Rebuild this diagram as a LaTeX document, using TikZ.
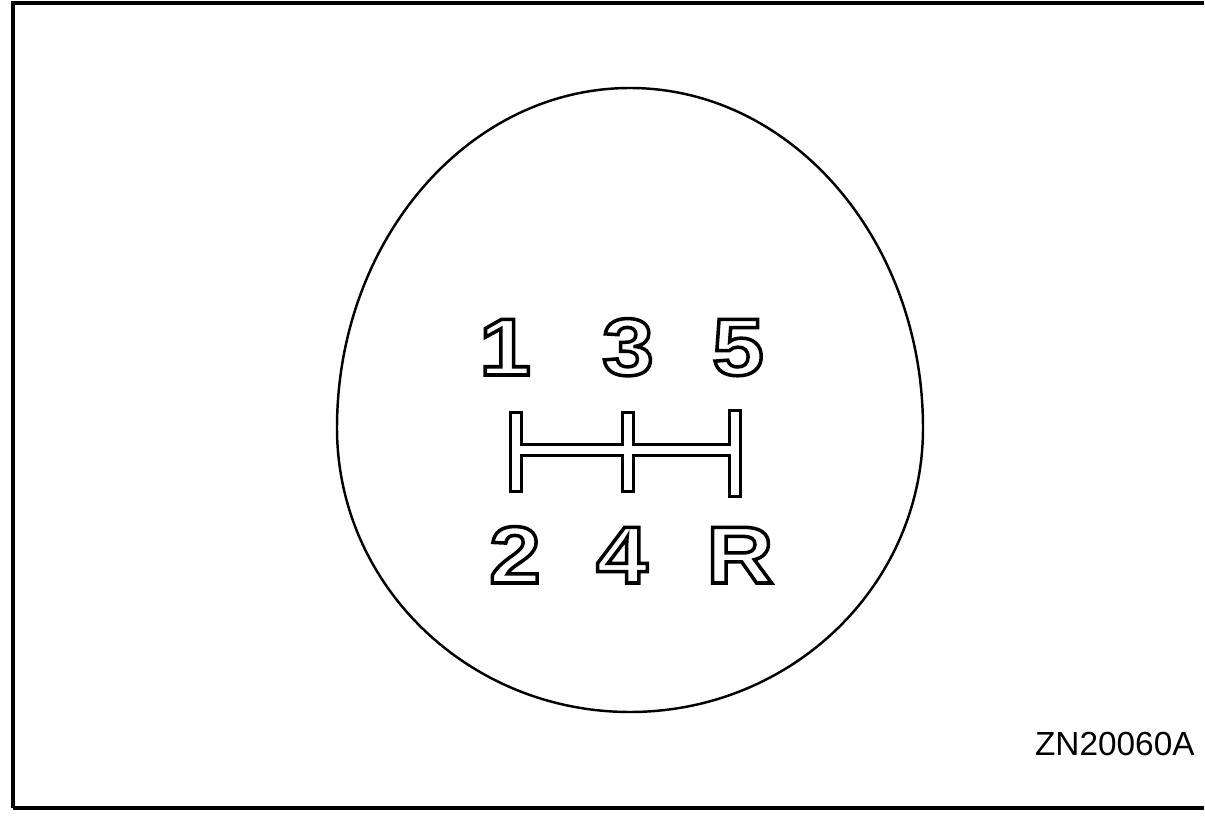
\documentclass[tikz,border=0pt]{standalone}
\usepackage{fontspec}
\setmainfont{Liberation Sans}
\newfontfamily\gearfont[FakeStretch=1.15]{Liberation Sans}
% white letters with a black outline
\newcommand\hollow[1]{\special{pdf:literal direct 0 G 2 Tr 2 w}#1\special{pdf:literal direct 0 Tr}}

\begin{document}
\begin{tikzpicture}[x=0.02cm,y=0.02cm,
    gear/.style={anchor=base, text=white, inner sep=0pt,
      font=\gearfont\fontsize{46}{46}\bfseries\selectfont},
    code/.style={anchor=base east, inner sep=0pt,
      font=\fontsize{19}{19}\selectfont}]
  \useasboundingbox (0,0) rectangle (1205,816);

  % frame
  \draw[line width=2.2pt] (13,8) -- (13,813) -- (1204,813);
  \draw[line width=2.2pt] (13,8) -- (1204,8);

  % knob
  \draw[line width=1.4pt] (337,388)
    arc[start angle=180, end angle=0, x radius=293, y radius=340]
    arc[start angle=0, end angle=-180, x radius=293, y radius=284] -- cycle;

  % gear numbers
  \node[gear] (g1) at (505,441) {\hollow{1}};
  \node[gear] (g3) at (628,441) {\hollow{3}};
  \node[gear] (g5) at (738,441) {\hollow{5}};
  \node[gear] (g2) at (515,233) {\hollow{2}};
  \node[gear] (g4) at (622,233) {\hollow{4}};
  \node[gear] (gR) at (740,233) {\hollow{R}};

  % shift pattern
  \foreach \w/\c in {7.6pt/black, 5.1pt/white}
    \draw[line width=\w, \c, line cap=rect]
      (516,398) -- (516,330)
      (628,398) -- (628,330)
      (735,400) -- (735,325)
      (516,366) -- (735,366);

  \node[code] (fig) at (1195,61) {ZN20060A};
\end{tikzpicture}
\end{document}
